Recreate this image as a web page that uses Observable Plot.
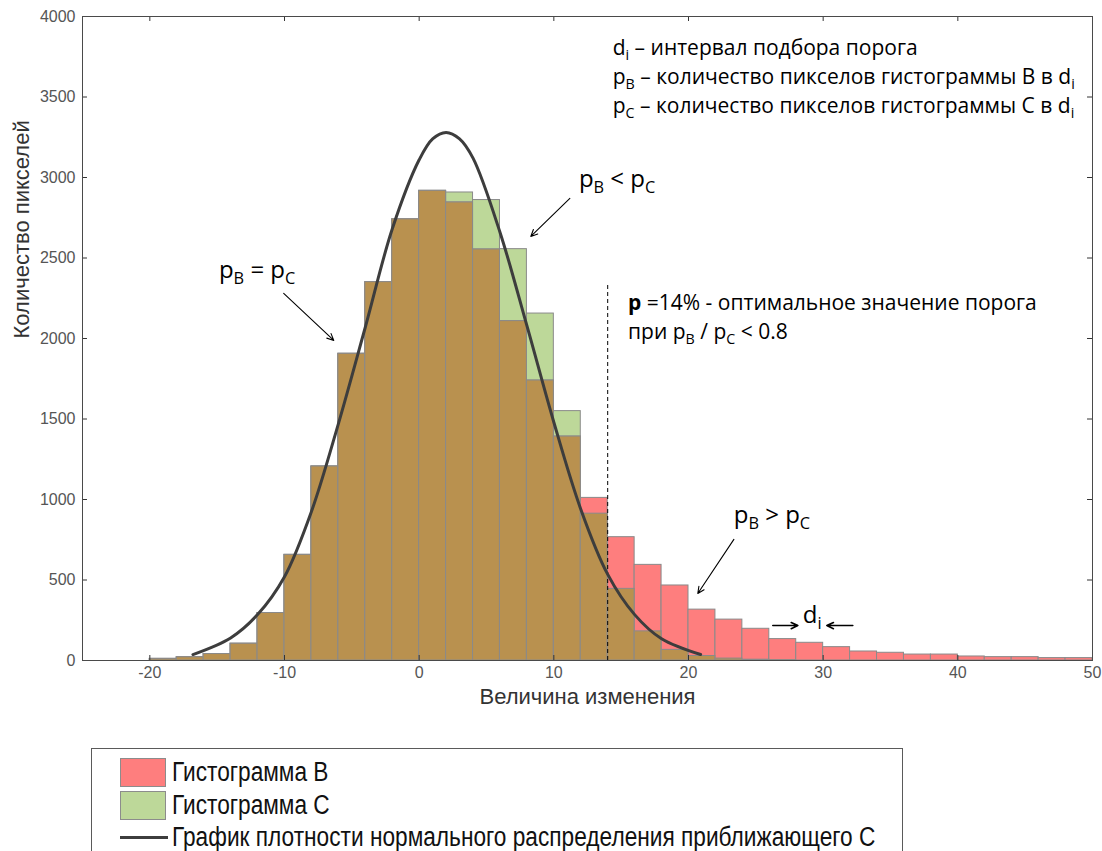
<!DOCTYPE html>
<html><head><meta charset="utf-8">
<script src="https://cdn.jsdelivr.net/npm/d3@7"></script>
<script src="https://cdn.jsdelivr.net/npm/@observablehq/plot@0.6"></script>
<style>
html,body{margin:0;padding:0;background:#fff;}
body{width:1102px;height:851px;overflow:hidden;position:relative;font-family:"Liberation Sans",Arial,sans-serif;}
#chart{position:absolute;left:0;top:0;}
#legend{position:absolute;left:91px;top:748px;width:810px;height:130px;border:1px solid #5a5a5a;background:#fff;
  font-family:"Liberation Sans",Arial,sans-serif;font-size:27px;color:#111;}
.item{position:absolute;left:28px;height:30px;display:flex;align-items:center;white-space:nowrap;}
.item span{display:inline-block;transform:scaleX(0.84);transform-origin:left center;}
.sw{width:46px;height:29px;box-sizing:border-box;border:1px solid #8c8c8c;margin-right:6px;}
.ln{width:48px;height:3px;background:#3d3d3d;margin-right:4px;}
</style></head><body>
<div id="chart"></div>
<div id="legend"></div>
<script>
// ---- data ----
const binStart = [-20,-18,-16,-14,-12,-10,-8,-6,-4,-2,0,2,4,6,8,10,12,14,16,18,20,22,24,26,28,30,32,34,36,38,40,42,44,46,48];
const binWidth = 2;
const countsB = [10,20,40,104,295,656,1205,1905,2350,2740,2917,2845,2553,2108,1739,1391,1010,766,594,466,316,254,197,133,110,83,56,48,37,37,25,21,21,15,15];
const countsC = [10,20,40,104,295,656,1205,1905,2350,2740,2917,2907,2860,2555,2155,1549,912,445,181,66,28,12,5,2,0,0,0,0,0,0,0,0,0,0,0];
const curveX = [-16.8,-14,-12,-10,-8,-6,-4,-2,0,1,2,3,4,6,8,10,12,14,16,18,20.9];
const curveY = [37,140,285,520,925,1470,2070,2680,3110,3240,3280,3240,3120,2660,2080,1480,940,535,285,135,37];
const xTicks = [-20,-10,0,10,20,30,40,50];
const yTicks = [0,500,1000,1500,2000,2500,3000,3500,4000];
const xDomain = [-25,50];
const yDomain = [0,4000];
const threshold = 14;
const thresholdTop = 2340;
const xLabel = "Величина изменения";
const yLabel = "Количество пикселей";
const legendLabels = ["Гистограмма B","Гистограмма C","График плотности нормального распределения приближающего С"];
// annotations (x,y in data units; _{..} = subscript, *{..} = bold, | = new line)
const bigLabels = [
  {x:-14.87, y:2422, t:"p_{B} = p_{C}"},
  {x:11.86, y:2988, t:"p_{B} < p_{C}"},
  {x:23.36, y:901, t:"p_{B} > p_{C}"},
  {x:28.49, y:280, t:"d_{i}"}
];
const noteLabels = [
  {x:14.37, y:3801, t:"d_{i} – интервал подбора порога"},
  {x:14.37, y:3621, t:"p_{B} – количество пикселов гистограммы B в d_{i}"},
  {x:14.37, y:3441, t:"p_{C} – количество пикселов гистограммы C в d_{i}"},
  {x:15.51, y:2216, t:"*{p} =14% - оптимальное значение порога|при p_{B} / p_{C} < 0.8"}
];
const arrows = [
  {x1:-10.06, y1:2280, x2:-6.34, y2:1988, w:1.1},
  {x1:11.19, y1:2870, x2:8.29, y2:2634, w:1.1},
  {x1:23.37, y1:752, x2:20.69, y2:416, w:1.1},
  {x1:26.26, y1:217, x2:28.12, y2:217, w:1.6},
  {x1:32.20, y1:217, x2:30.27, y2:217, w:1.6}
];
const colB = "#fe7e7e", colC = "#bdd899", colBoth = "#b9914f";
const edge = "#8a8a8a";

const bins = binStart.map((s,i)=>({x1:s, x2:s+binWidth, B:countsB[i], C:countsC[i], both:Math.min(countsB[i],countsC[i])}));
const curve = curveX.map((x,i)=>({x, y:curveY[i]}));

const annFont = "'Open Sans','Noto Sans',sans-serif";
const chart = Plot.plot({
  width:1102, height:730,
  marginLeft:82, marginRight:10, marginTop:16, marginBottom:70,
  style:{background:"#fff", fontFamily:"'Liberation Sans',Arial,sans-serif"},
  x:{domain:xDomain, axis:null},
  y:{domain:yDomain, axis:null},
  marks:[
    Plot.rect(bins, {x1:"x1", x2:"x2", y1:0, y2:"C", fill:colC, stroke:edge, strokeWidth:1}),
    Plot.rect(bins, {x1:"x1", x2:"x2", y1:0, y2:"B", fill:colB, stroke:edge, strokeWidth:1}),
    Plot.rect(bins, {x1:"x1", x2:"x2", y1:0, y2:"both", fill:colBoth, stroke:edge, strokeWidth:1}),
    Plot.ruleX([threshold], {y1:0, y2:thresholdTop, stroke:"#000", strokeWidth:1, strokeDasharray:"4,3"}),
    Plot.line(curve, {x:"x", y:"y", curve:"catmull-rom", stroke:"#3d3d3d", strokeWidth:3}),
    // inward ticks on all four sides
    Plot.ruleX(xTicks, {x:d=>d, y1:0, y2:31, stroke:"#333"}),
    Plot.ruleX(xTicks, {x:d=>d, y1:4000, y2:3969, stroke:"#333"}),
    Plot.ruleY(yTicks, {y:d=>d, x1:-25, x2:-24.63, stroke:"#333"}),
    Plot.ruleY(yTicks, {y:d=>d, x1:50, x2:49.63, stroke:"#333"}),
    Plot.frame({stroke:"#4a4a4a", strokeWidth:1}),
    // tick labels
    Plot.text(xTicks, {x:d=>d, frameAnchor:"bottom", dy:17, text:d=>String(d), fontSize:16, fill:"#555"}),
    Plot.text(yTicks, {y:d=>d, frameAnchor:"left", dx:-7, textAnchor:"end", text:d=>String(d), fontSize:16, fill:"#555"}),
    // axis labels
    Plot.text([xLabel], {frameAnchor:"bottom", dy:43, text:d=>d, fontSize:22, fill:"#333"}),
    Plot.text([yLabel], {frameAnchor:"left", dx:-61, rotate:-90, text:d=>d, fontSize:22, fill:"#333"}),
    // annotations
    Plot.arrow(arrows, {x1:"x1", y1:"y1", x2:"x2", y2:"y2", stroke:"#000", strokeWidth:"w", headLength:11, headAngle:50}),
    Plot.text(bigLabels, {x:"x", y:"y", text:"t", textAnchor:"start", fontSize:24, fill:"#000", fontFamily:annFont, className:"annbig"}),
    Plot.text(noteLabels, {x:"x", y:"y", text:"t", textAnchor:"start", fontSize:21, fill:"#000", fontFamily:annFont, className:"annnote"})
  ]
});
document.getElementById("chart").appendChild(chart);

function rich(cls, fs, lineGap){
  d3.select(chart).selectAll("g."+cls+" text").each(function(){
    const src = this.textContent;
    const xAttr = this.getAttribute("x") || 0;
    const el = d3.select(this);
    el.text(null);
    const parts = src.split(/(_\{[^}]*\}|\*\{[^}]*\}|\|)/).filter(p=>p!=="");
    let shifted = 0;
    let newline = false;
    for (const p of parts){
      if (p === "|"){ newline = true; continue; }
      const ts = el.append("tspan");
      let dy;
      if (p.startsWith("_{")){
        const sdy = fs*0.24;
        ts.text(p.slice(2,-1)).attr("font-size", fs*0.68);
        dy = sdy - shifted;
        shifted = sdy;
      } else {
        let txt = p;
        if (p.startsWith("*{")){ txt = p.slice(2,-1); ts.attr("font-weight","bold"); }
        ts.text(txt);
        dy = -shifted;
        shifted = 0;
      }
      if (newline){ ts.attr("x", xAttr); dy += lineGap; newline = false; }
      ts.attr("dy", dy);
    }
  });
}
rich("annbig", 24, 30);
rich("annnote", 21, 29);

// legend
const lg = document.getElementById("legend");
const items = [
  {top:8, html:`<div class="sw" style="background:${colB}"></div>`},
  {top:41, html:`<div class="sw" style="background:${colC}"></div>`},
  {top:73, html:`<div class="ln"></div>`}
];
items.forEach((it,i)=>{
  const d = document.createElement("div");
  d.className = "item";
  d.style.top = it.top + "px";
  d.innerHTML = it.html + `<span>${legendLabels[i]}</span>`;
  lg.appendChild(d);
});
</script>
</body></html>
